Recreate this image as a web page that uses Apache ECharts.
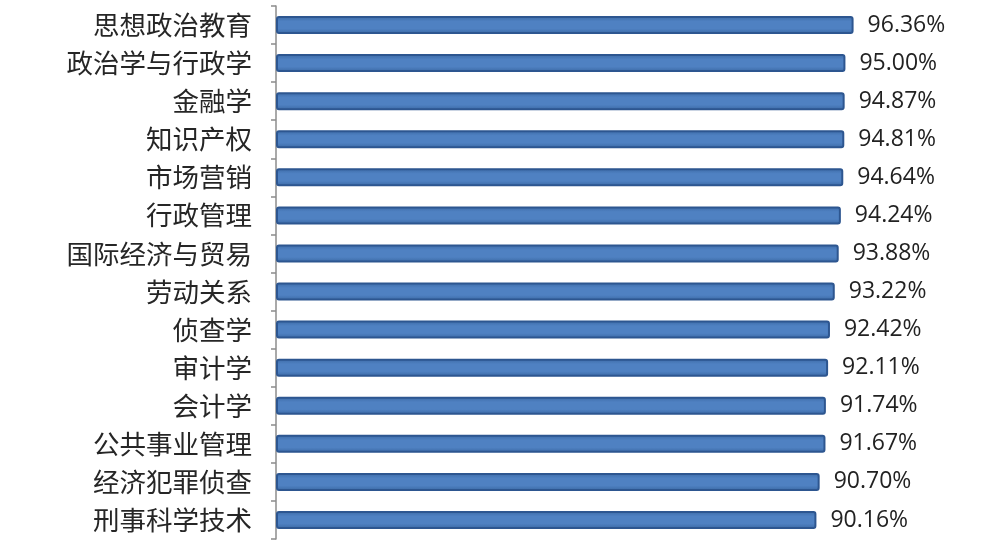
<!DOCTYPE html>
<html><head><meta charset="utf-8">
<script src="https://cdn.jsdelivr.net/npm/echarts@6/dist/echarts.min.js"></script>
<style>html,body{margin:0;padding:0;background:#fff}#c{width:1006px;height:542px}</style>
</head><body><div id="c"></div>
<script>
const categories = ['思想政治教育','政治学与行政学','金融学','知识产权','市场营销','行政管理','国际经济与贸易','劳动关系','侦查学','审计学','会计学','公共事业管理','经济犯罪侦查','刑事科学技术'];
const values = [96.36,95.00,94.87,94.81,94.64,94.24,93.88,93.22,92.42,92.11,91.74,91.67,90.70,90.16];

const chart = echarts.init(document.getElementById('c'));
chart.setOption({
  animation:false,
  backgroundColor:'#fff',
  grid:{left:276,top:6,width:597,height:533,containLabel:false},
  xAxis:{type:'value',min:0,max:99.6,show:false},
  yAxis:{type:'category',inverse:true,data:categories,
    axisLine:{show:true,lineStyle:{color:'#8c8c8c',width:1.5}},
    axisTick:{show:true,length:5,lineStyle:{color:'#8c8c8c',width:1.5}},
    axisLabel:{margin:24,fontSize:26.5,color:'#262626',fontFamily:'Noto Sans CJK SC'}
  },
  series:[{type:'bar',data:values,barWidth:18,
    itemStyle:{
      color:{type:'linear',x:0,y:0,x2:0,y2:1,colorStops:[
        {offset:0,color:'#3c6aa6'},{offset:0.3,color:'#4f81c2'},{offset:0.7,color:'#4f81c2'},{offset:1,color:'#3a68a3'}]},
      borderColor:'#2d5690',borderWidth:2,borderRadius:2},
    label:{show:true,position:'right',distance:14,fontSize:23,color:'#222',fontFamily:'Open Sans',
      formatter:p=>p.value.toFixed(2)+'%'}
  }]
});
</script></body></html>
